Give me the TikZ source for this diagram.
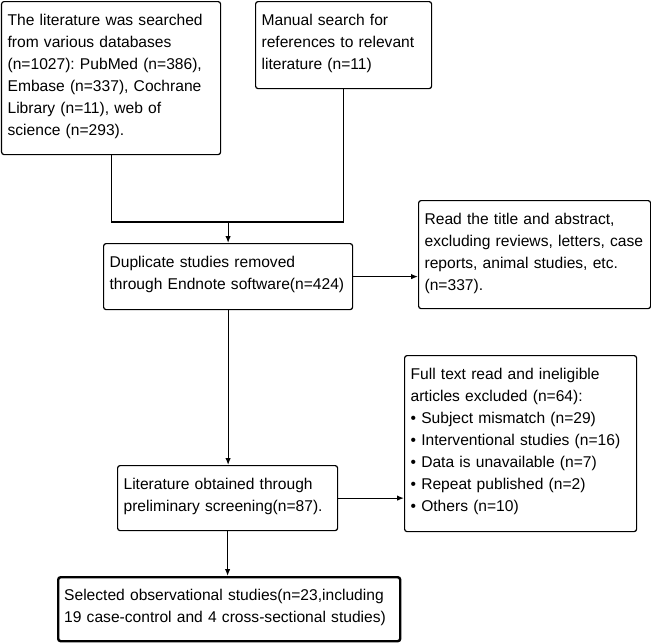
\documentclass[tikz,border=0pt]{standalone}
\usepackage{fontspec}
\setmainfont{Liberation Sans}
\usepackage{tikz}
\usetikzlibrary{arrows.meta,calc,positioning}
\frenchspacing
\tikzstyle{box} = [draw,line width=1.2pt,rounded corners=2.5pt,anchor=north west,align=left,inner xsep=6pt,inner ysep=12pt,text height=11.5pt,font=\fontsize{15.6}{22}\selectfont]
\tikzstyle{flow} = [line width=1.2pt,-{Latex[length=7pt,width=5.5pt]}]

\begin{document}
\begin{tikzpicture}[x=1pt,y=-1pt]
\useasboundingbox (0,0) rectangle (651,643);

\node[box,text width=207pt,text depth=117.5pt] (search) at (1,1) {The literature was searched\\from various databases\\(n=1027): PubMed (n=386),\\Embase (n=337), Cochrane\\Library (n=11), web of\\science (n=293).};
\node[box,text width=164pt,text depth=51.5pt] (manual) at (255,1) {Manual search for\\references to relevant\\literature (n=11)};
\node[box,text width=237pt,text depth=30.5pt] (dup) at (103,243) {Duplicate studies removed\\through Endnote software(n=424)};
\node[box,text width=220pt,text depth=72.5pt] (title) at (418,200) {Read the title and abstract,\\excluding reviews, letters, case\\reports, animal studies, etc.\\(n=337).};
\node[box,text width=208pt,text depth=29.5pt] (prelim) at (117,465) {Literature obtained through\\preliminary screening(n=87).};
\node[box,text width=220pt,text depth=140.5pt] (full) at (404,355) {Full text read and ineligible\\articles excluded (n=64):\\\textbullet\ Subject mismatch (n=29)\\\textbullet\ Interventional studies (n=16)\\\textbullet\ Data is unavailable (n=7)\\\textbullet\ Repeat published (n=2)\\\textbullet\ Others (n=10)};
\node[box,line width=2.4pt,text width=330pt,text depth=28.5pt] (final) at (57,576) {Selected observational studies(n=23,including\\19 case-control and 4 cross-sectional studies)};

\coordinate (join) at (dup.north |- 0,222);
\draw[line width=1.2pt] (search.south) |- (join) -| (manual.south);
\draw[flow] (join) -- (dup.north);
\draw[flow] (dup.east) -- (dup.east -| title.west);
\draw[flow] (dup.south) -- (dup.south |- prelim.north);
\draw[flow] (prelim.east) -- (prelim.east -| full.west);
\draw[flow] (prelim.south) -- (prelim.south |- final.north);
\end{tikzpicture}
\end{document}
